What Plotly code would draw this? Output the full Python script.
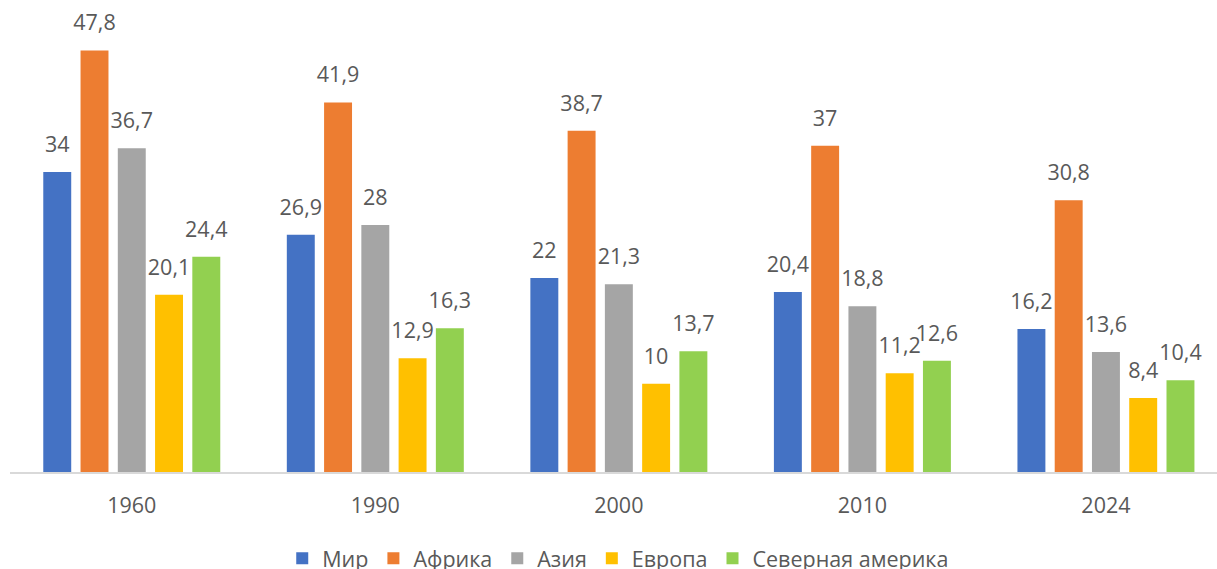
import plotly.graph_objects as go

years = ["1960", "1990", "2000", "2010", "2024"]
series_names = ["Мир", "Африка", "Азия", "Европа", "Северная америка"]
mir = [34, 26.9, 22, 20.4, 16.2]
afrika = [47.8, 41.9, 38.7, 37, 30.8]
aziya = [36.7, 28, 21.3, 18.8, 13.6]
evropa = [20.1, 12.9, 10, 11.2, 8.4]
sev_amerika = [24.4, 16.3, 13.7, 12.6, 10.4]
colors = ["#4472C4", "#ED7D31", "#A5A5A5", "#FFC000", "#92D050"]

all_values = [mir, afrika, aziya, evropa, sev_amerika]
FONT = "Open Sans"
TXT = "#595959"
FS = 21.5


def fmt(v):
    s = ("%g" % v)
    return s.replace(".", ",")


fig = go.Figure()
for name, vals, col in zip(series_names, all_values, colors):
    fig.add_trace(go.Bar(
        x=years, y=vals, name=name,
        marker=dict(color=col, line=dict(width=0)),
        hoverinfo="skip",
    ))
for name, vals, col in zip(series_names, all_values, colors):
    fig.add_trace(go.Scatter(
        x=years, y=vals, mode="text+markers",
        marker=dict(size=22, opacity=0),
        text=[fmt(v) for v in vals],
        textposition="top center",
        textfont=dict(family=FONT, size=FS, color=TXT),
        showlegend=False, hoverinfo="skip", cliponaxis=False,
    ))

fig.update_layout(
    width=1217, height=569,
    paper_bgcolor="white", plot_bgcolor="white",
    margin=dict(l=10, r=0, t=31, b=97),
    barmode="group", bargap=0.235, bargroupgap=0.25,
    scattermode="group", scattergap=0.235,
    font=dict(family=FONT, size=FS, color=TXT),
    showlegend=True,
    legend=dict(
        orientation="h", xref="container", yref="container",
        x=0.508, xanchor="center", y=0.019, yanchor="middle",
        font=dict(family=FONT, size=FS, color=TXT),
        itemwidth=30, tracegroupgap=0,
    ),
)
fig.update_xaxes(
    type="category", range=[-0.5, 4.456],
    showline=True, linecolor="#D9D9D9", linewidth=2,
    ticks="", showgrid=False, ticklabelstandoff=13,
    tickfont=dict(family=FONT, size=FS, color=TXT),
)
fig.update_yaxes(range=[0, 50], visible=False, showgrid=False, zeroline=False)

fig.write_html("out.html", config={"displayModeBar": False},
               post_script="document.body.style.margin='0';")
